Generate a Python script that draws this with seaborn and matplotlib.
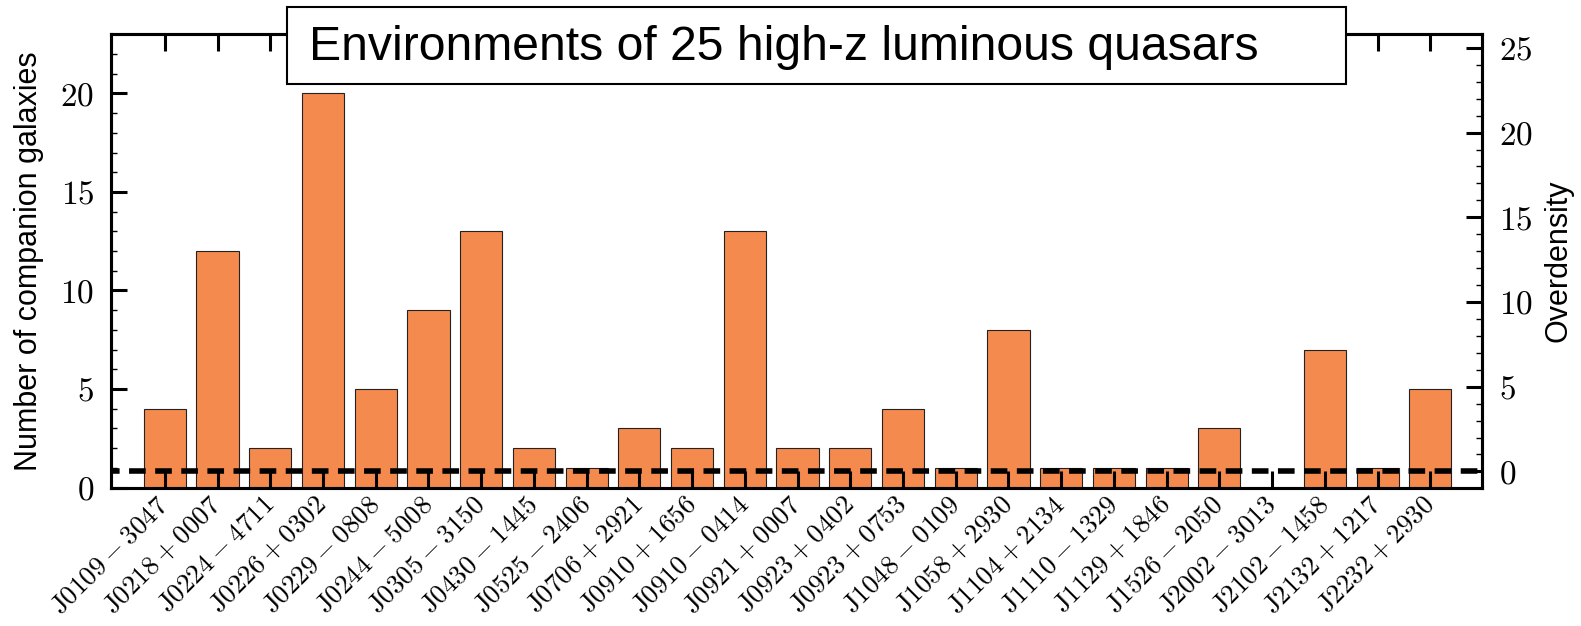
import matplotlib
matplotlib.use('Agg')
import matplotlib.pyplot as plt
from matplotlib.patches import Rectangle
from matplotlib.ticker import MultipleLocator, FuncFormatter
from matplotlib.transforms import ScaledTranslation
import seaborn as sns

# quasar names and number of companion galaxies around each
quasars = ['J0109-3047', 'J0218+0007', 'J0224-4711', 'J0226+0302', 'J0229-0808',
           'J0244-5008', 'J0305-3150', 'J0430-1445', 'J0525-2406', 'J0706+2921',
           'J0910+1656', 'J0910-0414', 'J0921+0007', 'J0923+0402', 'J0923+0753',
           'J1048-0109', 'J1058+2930', 'J1104+2134', 'J1110-1329', 'J1129+1846',
           'J1526-2050', 'J2002-3013', 'J2102-1458', 'J2132+1217', 'J2232+2930']
companions = [4, 12, 2, 20, 5, 9, 13, 2, 1, 3, 2, 13, 2, 2, 4, 1, 8, 1, 1, 1, 3, 0, 7, 1, 5]

# left axis (counts) and right axis (overdensity) ranges
count_lim = (0, 23)
overdensity_lim = (-0.95, 25.8)
overdensity_zero = 0

sns.set_style('ticks')
plt.rcParams['font.family'] = ['Liberation Sans', 'DejaVu Sans']
plt.rcParams['mathtext.fontset'] = 'cm'
for k in ['text.color', 'axes.labelcolor', 'xtick.color', 'ytick.color', 'axes.edgecolor']:
    plt.rcParams[k] = 'black'

W, H = 1581, 626
fig = plt.figure(figsize=(W / 100, H / 100), dpi=100)
ax = fig.add_axes([111 / W, 1 - 487.5 / H, (1482 - 111) / W, (487.5 - 34.3) / H])

sns.barplot(x=quasars, y=companions, color='#F58A4F', saturation=1,
            edgecolor='#222222', linewidth=0.8, width=0.8, ax=ax)
ax.set_axisbelow(False)
ax.set_xlim(-1.02, len(quasars) - 0.02)
ax.set_ylim(*count_lim)


def mathname(n):
    return r'$\mathrm{%s}%s%s$' % (n[:5], n[5], n[6:])


ax.set_xticks(range(len(quasars)))
ax.set_xticklabels([mathname(n) for n in quasars], rotation=45, ha='right',
                   va='center', rotation_mode='anchor', fontsize=19.5)
shift = ScaledTranslation(14 / 100, 0, fig.dpi_scale_trans)
for lab in ax.get_xticklabels():
    lab.set_transform(lab.get_transform() + shift)
ax.yaxis.set_major_locator(MultipleLocator(5))
ax.yaxis.set_minor_locator(MultipleLocator(1))
ax.yaxis.set_major_formatter(FuncFormatter(lambda v, p: r'$%d$' % v))
ax.tick_params(axis='x', direction='in', length=12.5, width=2.2, top=True,
               bottom=True, labeltop=False, pad=9.5)
ax.tick_params(axis='y', which='major', direction='in', length=11.5, width=2.2,
               left=True, right=False, labelsize=24, pad=12)
ax.tick_params(axis='y', which='minor', direction='in', length=4, width=1,
               left=True, right=False)
ax.set_ylabel('Number of companion galaxies', fontsize=22, labelpad=12)
for s in ax.spines.values():
    s.set_visible(True)
    s.set_linewidth(2.2)

ax2 = ax.twinx()
ax2.set_ylim(*overdensity_lim)
ax2.axhline(overdensity_zero, color='black', lw=4, ls=(1.45, (3.0, 1.7)))
ax2.yaxis.set_major_locator(MultipleLocator(5))
ax2.yaxis.set_minor_locator(MultipleLocator(1))
ax2.yaxis.set_major_formatter(FuncFormatter(lambda v, p: r'$%d$' % v))
ax2.tick_params(axis='y', which='major', direction='in', length=11.5, width=2.2,
                right=True, left=False, labelsize=24, pad=12)
ax2.tick_params(axis='y', which='minor', direction='in', length=4, width=1,
                right=True, left=False)
ax2.set_ylabel('Overdensity', fontsize=22, labelpad=8)
for s in ax2.spines.values():
    s.set_linewidth(2.2)

# title box overlapping the top of the frame
box = Rectangle((287 / W, 1 - 84.3 / H), (1346 - 287) / W, (84.3 - 7.5) / H,
                transform=fig.transFigure, facecolor='white', edgecolor='black',
                linewidth=1.5, zorder=10)
fig.add_artist(box)
fig.text(309 / W, 1 - 47 / H, 'Environments of 25 high-z luminous quasars',
         fontsize=34.7, va='center', ha='left', zorder=11)

fig.savefig('out.png', dpi=100)
